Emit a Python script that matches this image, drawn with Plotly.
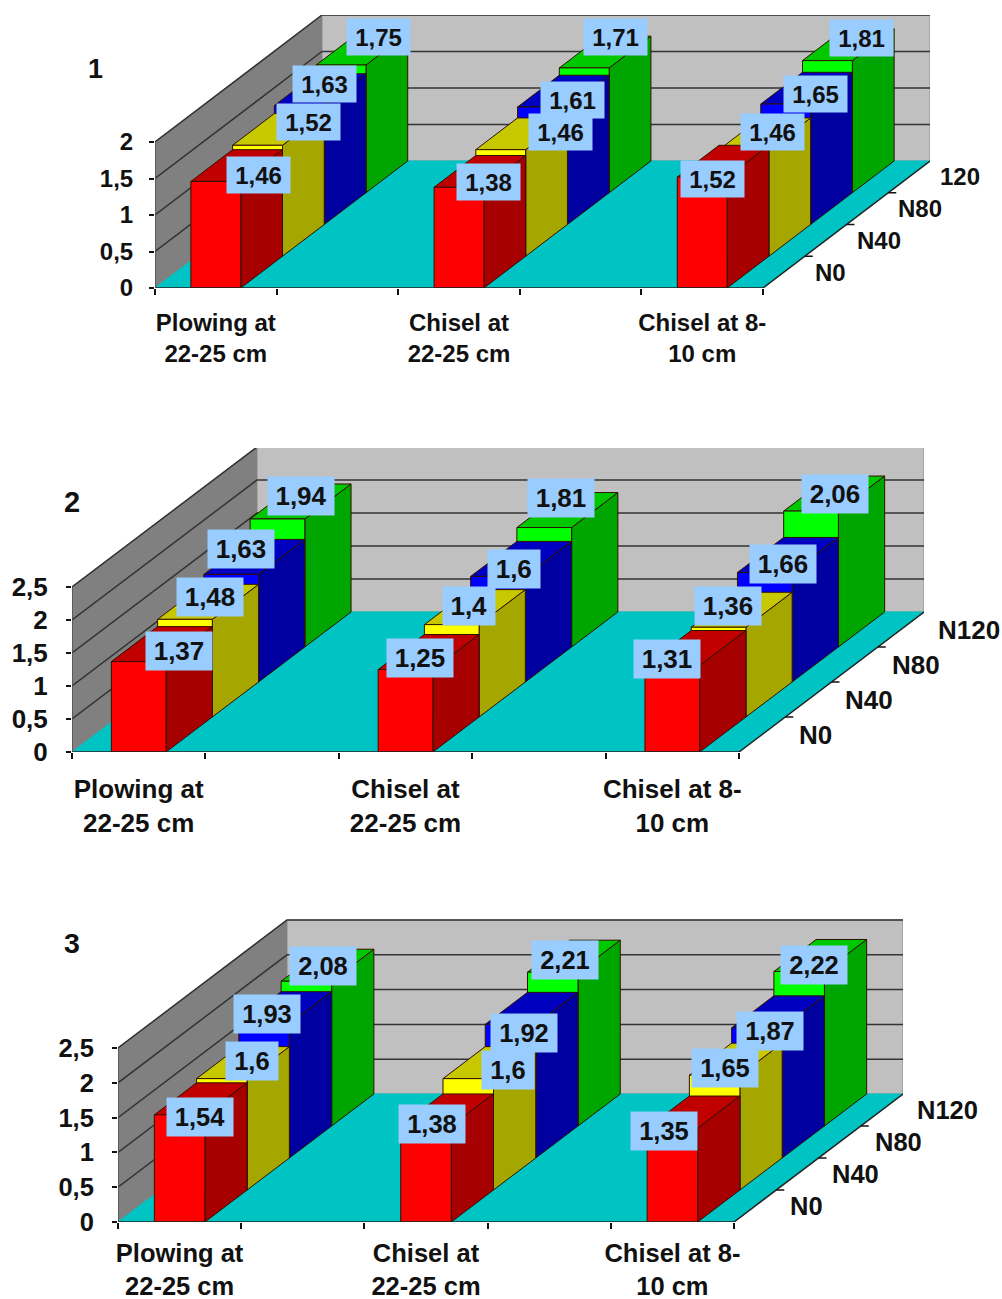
import plotly.graph_objects as go

CATEGORIES = ["Plowing at<br>22-25 cm", "Chisel at<br>22-25 cm", "Chisel at 8-<br>10 cm"]

P1_N0 = [1.46, 1.38, 1.52]
P1_N40 = [1.52, 1.46, 1.46]
P1_N80 = [1.63, 1.61, 1.65]
P1_N120 = [1.75, 1.71, 1.81]

P2_N0 = [1.37, 1.25, 1.31]
P2_N40 = [1.48, 1.40, 1.36]
P2_N80 = [1.63, 1.60, 1.66]
P2_N120 = [1.94, 1.81, 2.06]

P3_N0 = [1.54, 1.38, 1.35]
P3_N40 = [1.60, 1.60, 1.65]
P3_N80 = [1.93, 1.92, 1.87]
P3_N120 = [2.08, 2.21, 2.22]

P1_TICKS = [0, 0.5, 1, 1.5, 2]
P23_TICKS = [0, 0.5, 1, 1.5, 2, 2.5]
P1_DEPTH = ["N0", "N40", "N80", "120"]
P23_DEPTH = ["N0", "N40", "N80", "N120"]

FW, FH = 1002, 1299
FRONT = ["#FF0000", "#FFFF00", "#0000FF", "#00FF00"]
SIDE = ["#A60000", "#A6A600", "#0000A0", "#00A600"]
TOP = ["#C00000", "#C8C800", "#0000C0", "#00C800"]
FONT = "Liberation Sans, Arial, sans-serif"

# pixel geometry of each panel, and nudges of the value labels from each bar's top-front centre
PANELS = [
    dict(series=[P1_N0, P1_N40, P1_N80, P1_N120], ticks=P1_TICKS, depth=P1_DEPTH, num="1", num_xy=(95, 69),
         ox=155, oy=288, ux=121.6, uy=73, dx=167, dy=127, top=15, fs=24, lw=63, lh=36, dshift=29, tl=11,
         xstand=18,
         shifts=[[(43, -6), (51, -23), (25.5, -22), (37, -28)],
                 [(29, -5), (60, -18), (29.5, -7), (31, -31)],
                 [(10, 2), (29, -18), (30, -10), (34.5, -23)]]),
    dict(series=[P2_N0, P2_N40, P2_N80, P2_N120], ticks=P23_TICKS, depth=P23_DEPTH, num="2", num_xy=(72, 502),
         ox=72, oy=752, ux=133.4, uy=66, dx=185, dy=140, top=448, fs=26, lw=66, lh=38, dshift=35, tl=13,
         xstand=19,
         shifts=[[(40, -11), (25.5, -22), (10, -25), (24, -23)],
                 [(14.5, -11.5), (17, -19), (16, -7), (17, -30)],
                 [(-5, -6.5), (9, -21), (18, -8), (23.5, -17)]]),
    dict(series=[P3_N0, P3_N40, P3_N80, P3_N120], ticks=P23_TICKS, depth=P23_DEPTH, num="3", num_xy=(72, 943),
         ox=118, oy=1222, ux=123.2, uy=69.6, dx=169, dy=128, top=919, fs=25.5, lw=66, lh=38, dshift=33, tl=13,
         xstand=13,
         shifts=[[(20, 2), (30, -18), (3, -10), (17, -15)],
                 [(6, -2), (40, -9), (13.5, 9), (12, -12)],
                 [(-8, 3), (10, -7), (13, 3), (15, -6.5)]]),
]

N_SLOTS = 5
BAR_W = 0.41
CAT_POS = [0.5, 2.5, 4.5]
DEPTH_N = 4

fig = go.Figure()
annotations = []
layout = {}


def fmt(v):
    return f"{v:g}".replace(".", ",")


def poly(xs, ys, fill, line, axes, width=1.0):
    fig.add_trace(go.Scatter(x=xs, y=ys, mode="lines", fill="toself", fillcolor=fill,
                             line=dict(color=line, width=width), hoverinfo="skip",
                             showlegend=False, cliponaxis=False, **axes))


def segment(xs, ys, color, axes, width=1.5):
    fig.add_trace(go.Scatter(x=xs, y=ys, mode="lines", line=dict(color=color, width=width),
                             hoverinfo="skip", showlegend=False, cliponaxis=False, **axes))


for i, p in enumerate(PANELS):
    sfx = "" if i == 0 else str(i + 1)
    axes = dict(xaxis="x" + sfx, yaxis="y" + sfx)
    ux, uy = p["ux"], p["uy"]
    # depth vector for the whole floor, in data units
    ddx, ddy = p["dx"] / ux, p["dy"] / uy
    xmax, ymax = N_SLOTS + ddx, (p["oy"] - p["top"]) / uy
    wall_h = max(p["ticks"])
    # walls and floor
    poly([0, ddx, ddx, 0, 0], [0, ddy, ddy + wall_h, wall_h, 0], "#808080", "#6A6A6A", axes)
    poly([ddx, xmax, xmax, ddx, ddx], [ddy, ddy, ddy + wall_h, ddy + wall_h, ddy], "#C0C0C0", "#8C8C8C", axes)
    poly([0, N_SLOTS, xmax, ddx, 0], [0, 0, ddy, ddy, 0], "#00C4C4", "#00C4C4", axes)
    # gridlines on both walls
    for t in p["ticks"][1:]:
        segment([0, ddx, xmax], [t, ddy + t, ddy + t], "#333333", axes, 1.5)
    # bars, from back to front
    for c, xc in enumerate(CAT_POS):
        for k in range(DEPTH_N - 1, -1, -1):
            v = p["series"][k][c]
            x0 = xc - BAR_W / 2 + k * ddx / DEPTH_N
            x1 = x0 + BAR_W
            y0 = k * ddy / DEPTH_N
            sx, sy = ddx / DEPTH_N, ddy / DEPTH_N
            poly([x1, x1 + sx, x1 + sx, x1, x1], [y0, y0 + sy, y0 + sy + v, y0 + v, y0], SIDE[k], "#301000", axes)
            poly([x0, x0 + sx, x1 + sx, x1, x0], [y0 + v, y0 + sy + v, y0 + sy + v, y0 + v, y0 + v], TOP[k], "#301000", axes)
            poly([x0, x1, x1, x0, x0], [y0, y0, y0 + v, y0 + v, y0], FRONT[k], "#301000", axes)
    # axis lines and depth ticks
    segment([0, N_SLOTS], [0, 0], "#222222", axes, 1.5)
    segment([0, 0], [0, wall_h], "#555555", axes, 1.5)
    segment([N_SLOTS, xmax], [0, ddy], "#222222", axes, 1.5)
    tick_px = 8 / ux
    for k in range(1, DEPTH_N + 1):
        x_k, y_k = N_SLOTS + k * ddx / DEPTH_N, k * ddy / DEPTH_N
        segment([x_k, x_k + tick_px], [y_k, y_k], "#111111", axes, 1.5)

    dom_x = [p["ox"] / FW, (p["ox"] + xmax * ux) / FW]
    dom_y = [(FH - p["oy"]) / FH, (FH - p["top"]) / FH]
    tf = dict(family=FONT, size=p["fs"], color="#111111", weight="bold")
    layout["xaxis" + sfx] = dict(
        domain=dom_x, range=[0, xmax], anchor="y" + sfx, showgrid=False, zeroline=False, showline=False,
        automargin=False,
        tickmode="array", tickvals=CAT_POS, ticktext=CATEGORIES, ticks="", tickangle=0,
        ticklabelstandoff=p["xstand"], tickfont=tf,
        minor=dict(tickmode="array", tickvals=list(range(N_SLOTS + 1)), ticks="outside", ticklen=6,
                   tickwidth=1.5, tickcolor="#111111", showgrid=False),
    )
    layout["yaxis" + sfx] = dict(
        domain=dom_y, range=[0, ymax], anchor="x" + sfx, showgrid=False, zeroline=False, showline=False,
        automargin=False,
        tickmode="array", tickvals=p["ticks"], ticktext=[fmt(t) for t in p["ticks"]], ticks="outside",
        ticklen=5, tickwidth=1.5, tickcolor="#111111", ticklabelstandoff=p["tl"], tickfont=tf,
    )

    ann = dict(xref="x" + sfx, yref="y" + sfx, showarrow=False)
    # value labels
    for c, xc in enumerate(CAT_POS):
        for k in range(DEPTH_N):
            v = p["series"][k][c]
            ax = xc + k * ddx / DEPTH_N
            ay = k * ddy / DEPTH_N + v
            sh = p["shifts"][c][k]
            txt = f"{v:.2f}".rstrip("0").replace(".", ",")
            w = p["lw"] - (p["fs"] * 0.556) * (4 - len(txt))
            annotations.append(dict(ann, x=ax, y=ay, xshift=sh[0], yshift=-sh[1], text=f"<b>{txt}</b>",
                                    font=dict(family=FONT, size=p["fs"], color="#111111"),
                                    bgcolor="#99CCFF", width=w, height=p["lh"], borderpad=0,
                                    align="center", valign="middle"))
    # depth labels
    for k, lab in enumerate(p["depth"]):
        annotations.append(dict(ann, x=N_SLOTS + (k + 0.5) * ddx / DEPTH_N, y=(k + 0.5) * ddy / DEPTH_N,
                                xshift=p["dshift"], xanchor="left", text=f"<b>{lab}</b>",
                                font=dict(family=FONT, size=p["fs"], color="#111111")))
    # panel number
    annotations.append(dict(xref="paper", yref="paper", showarrow=False, text=f"<b>{p['num']}</b>",
                            x=p["num_xy"][0] / FW, y=1 - p["num_xy"][1] / FH, xanchor="center", yanchor="middle",
                            font=dict(family=FONT, size=p["fs"] + 3, color="#111111")))

fig.update_layout(width=FW, height=FH, margin=dict(l=0, r=0, t=0, b=0), autosize=False,
                  paper_bgcolor="white", plot_bgcolor="rgba(0,0,0,0)", showlegend=False,
                  annotations=annotations, **layout)
fig.write_html("out.html", config=dict(displayModeBar=False),
               post_script="document.body.style.margin='0';document.body.style.overflow='hidden';")
